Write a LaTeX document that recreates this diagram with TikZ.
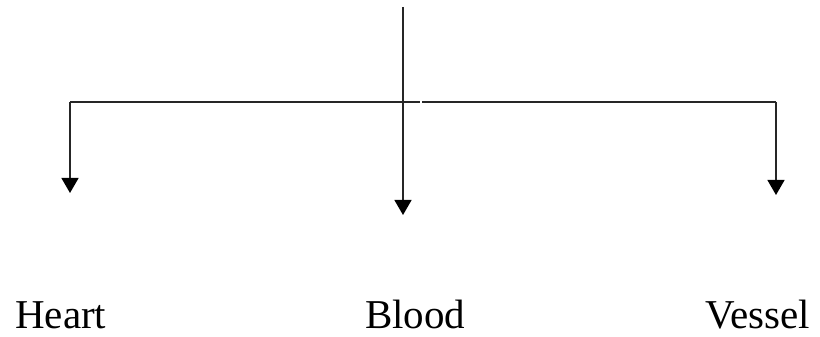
\documentclass[tikz,border=0pt]{standalone}
\usepackage{fontspec}
\setmainfont{Liberation Serif}
\usetikzlibrary{arrows.meta}
\begin{document}
\begin{tikzpicture}[x=1pt,y=1pt,
  conn/.style={line width=1.3pt, draw=black!85},
  arr/.style={conn, -{Triangle[width=17pt,length=15pt,fill=black,color=black]}},
  lbl/.style={font=\fontsize{41}{41}\selectfont, inner sep=0pt, anchor=base west}]
\useasboundingbox (0,0) rectangle (820,337);
\coordinate (top) at (403,330);
\coordinate (hl) at (70,235);
\coordinate (hm) at (420,235);
\coordinate (hm2) at (422,235);
\coordinate (hr) at (776,235);
\coordinate (tipc) at (403,122);
\coordinate (tipl) at (70,144);
\coordinate (tipr) at (776,142);
\node[lbl] (heart) at (15,8) {Heart};
\node[lbl] (blood) at (365,8) {Blood};
\node[lbl] (vessel) at (705,8) {Vessel};
\draw[conn] (hl) -- (hm);
\draw[conn] (hm2) -- (hr);
\draw[arr] (top) -- (tipc);
\draw[arr] (hl) -- (tipl);
\draw[arr] (hr) -- (tipr);
\end{tikzpicture}
\end{document}
